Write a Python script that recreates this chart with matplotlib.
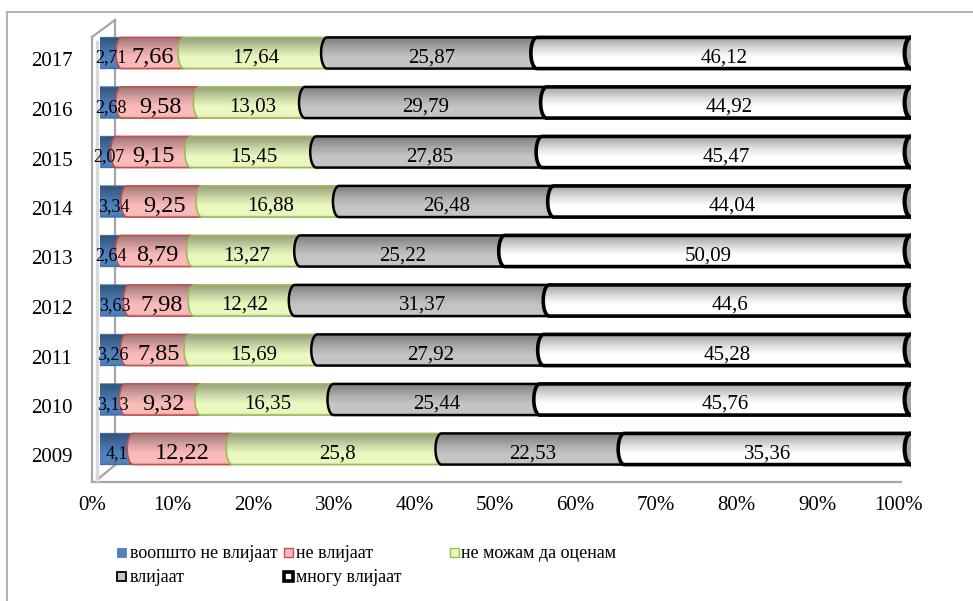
import matplotlib
matplotlib.use("Agg")
import matplotlib.pyplot as plt
import numpy as np
from matplotlib.path import Path
from matplotlib.patches import PathPatch, Ellipse, Rectangle
from matplotlib.lines import Line2D
import matplotlib.transforms as mtransforms

plt.rcParams['font.family'] = ['Liberation Serif', 'DejaVu Serif']

# data (percent of respondents per year)
years = ['2009', '2010', '2011', '2012', '2013', '2014', '2015', '2016', '2017']
voopsto = [4.1, 3.13, 3.26, 3.63, 2.64, 3.34, 2.07, 2.68, 2.71]
ne_vlijaat = [12.22, 9.32, 7.85, 7.98, 8.79, 9.25, 9.15, 9.58, 7.66]
ne_mozam = [25.8, 16.35, 15.69, 12.42, 13.27, 16.88, 15.45, 13.03, 17.64]
vlijaat = [22.53, 25.44, 27.92, 31.37, 25.22, 26.48, 27.85, 29.79, 25.87]
mnogu = [35.36, 45.76, 45.28, 44.6, 50.09, 44.04, 45.47, 44.92, 46.12]

series_names = ['воопшто не влијаат', 'не влијаат', 'не можам да оценам', 'влијаат', 'многу влијаат']
series = [voopsto, ne_vlijaat, ne_mozam, vlijaat, mnogu]

faces = ['#4F81BD', '#FBBABA', '#EAF8C0', '#C4C4C4', '#FFFFFF']
edges = ['#3F6FA8', '#C0504D', '#9BBB59', '#000000', '#000000']
lws = [0.8, 1.2, 1.2, 1.8, 2.6]
lab_size = [13, 17.5, 15, 15, 15]

W, H = 973, 601
fig = plt.figure(figsize=(W / 100, H / 100), dpi=100)


def fx(x):
    return x / W


def fy(y):
    return 1 - y / H


# main axes: bars from px 100 to 911, rows centred 449 .. 53
step = (449 - 53) / 8
ax = fig.add_axes([fx(100), fy(449 + step / 2), (911 - 100) / W, 9 * step / H])
ax.set_xlim(0, 100)
ax.set_ylim(-0.5, 8.5)
ax.axis('off')

bh = 0.63
rx = 0.75
theta = np.linspace(np.pi / 2, 3 * np.pi / 2, 40)

# shading for the cylinder look (dark overlay, transparent near the top third)
t = np.linspace(0, 1, 100)
alpha = np.interp(t, [0, 0.08, 0.35, 0.6, 1.0], [0.10, 0.0, 0.0, 0.12, 0.38])
shade = np.zeros((100, 1, 4))
shade[:, 0, 3] = alpha

for i, yr in enumerate(years):
    tot = sum(s[i] for s in series)
    left = 0.0
    for k, s in enumerate(series):
        w = s[i] / tot * 100
        x0, x1 = left, left + w
        top, bot = i + bh / 2, i - bh / 2
        arc = np.column_stack([x0 + rx * np.cos(theta), i + bh / 2 * np.sin(theta)])
        verts = np.vstack([[x1, top], arc, [x1, bot]])
        fill = PathPatch(Path(np.vstack([verts, verts[:1]]), closed=True),
                         facecolor=faces[k], edgecolor='none', zorder=2 + k)
        ax.add_patch(fill)
        im = ax.imshow(shade, extent=(x0 - rx, x1, top, bot), aspect='auto',
                       interpolation='bilinear', zorder=2 + k + 0.1)
        im.set_clip_path(fill)
        outline = PathPatch(Path(verts), fill=False, edgecolor=edges[k],
                            lw=lws[k], zorder=2 + k + 0.2, capstyle='round')
        ax.add_patch(outline)
        ax.text((x0 + x1) / 2, i - 0.1, f'{s[i]:g}'.replace('.', ','),
                ha='center', va='center', fontsize=lab_size[k], zorder=10)
        left = x1
    ax.add_patch(Ellipse((100, i), 2 * rx * 1.05, bh, facecolor='#A8A8A8',
                         edgecolor='black', lw=3, zorder=9))

# year labels
off = mtransforms.offset_copy(ax.transData, fig=fig, x=0, y=-9, units='dots')
blend = mtransforms.blended_transform_factory(fig.transFigure, off)
for i, yr in enumerate(years):
    ax.text(fx(52), i, yr, transform=blend, ha='center', va='center',
            fontsize=15, clip_on=False)

# x axis labels along the front edge of the floor
ax2 = fig.add_axes([fx(92), fy(482), (898 - 92) / W, 0.001])
ax2.set_xlim(0, 100)
ax2.set_yticks([])
ax2.set_xticks(range(0, 101, 10))
ax2.set_xticklabels([f'{v}%' for v in range(0, 101, 10)], fontsize=15)
ax2.tick_params(axis='x', length=0, pad=10)
for sp in ax2.spines.values():
    sp.set_visible(False)
ax2.patch.set_alpha(0)

# 3d wall and floor lines
wall = '#A6A6A6'
for (xa, ya), (xb, yb) in [((92, 37), (92, 482)), ((115, 20), (115, 465)),
                           ((92, 37), (115, 20)), ((97, 480), (115, 465)),
                           ((92, 482), (901, 482))]:
    fig.add_artist(Line2D([fx(xa), fx(xb)], [fy(ya), fy(yb)], color=wall,
                          lw=1.6, zorder=0))
fig.add_artist(Line2D([fx(97), fx(97)], [fy(42), fy(480)], color='#D9D9D9',
                      lw=2.5, zorder=0))

# chart border (right and bottom edges fall outside the picture)
fig.add_artist(Line2D([fx(7), fx(7)], [fy(12), 0], color='#A6A6A6', lw=1.2))
fig.add_artist(Line2D([fx(7), 1], [fy(12), fy(12)], color='#A6A6A6', lw=1.2))

# legend drawn by hand to follow the Excel row layout
leg = [(117, 552, 130), (284, 552, 296), (450, 552, 461), (117, 576, 130), (284, 576, 296)]
for k, (mx, my, tx) in enumerate(leg):
    fig.add_artist(Rectangle((fx(mx), fy(my + 5)), 9 / W, 9 / H, facecolor=faces[k],
                             edgecolor=edges[k], lw=[0.5, 1, 1, 1.3, 2.6][k]))
    fig.text(fx(tx), fy(my + 2), series_names[k], fontsize=13, va='center', ha='left')

fig.savefig('out.png', dpi=100)
